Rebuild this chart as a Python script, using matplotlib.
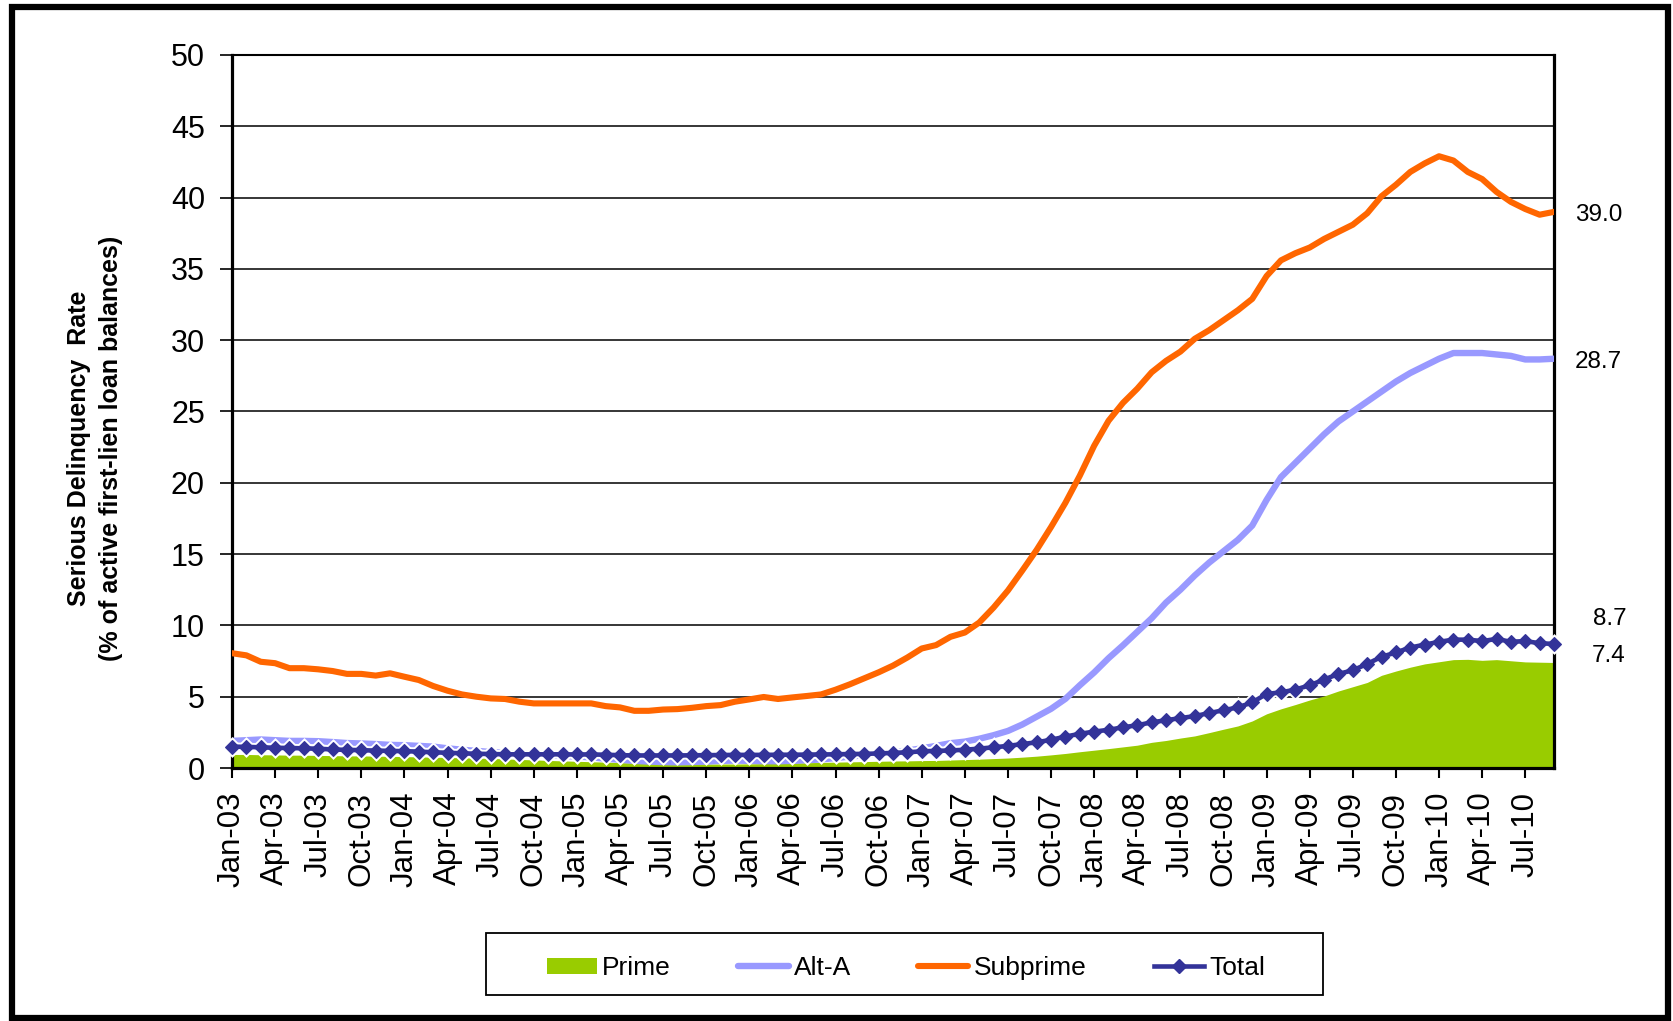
import numpy as np
import pandas as pd
import matplotlib
matplotlib.use("Agg")
import matplotlib.pyplot as plt
from matplotlib.patches import Rectangle, Patch
from matplotlib.lines import Line2D

plt.rcParams['font.family'] = ['Liberation Sans', 'DejaVu Sans']

# ---- data -----------------------------------------------------------------
months = pd.date_range('2003-01-01', '2010-09-01', freq='MS')  # Jan-03 .. Sep-10

subprime = [8.05, 7.9, 7.45, 7.35, 7.0, 7.0, 6.92, 6.8, 6.6, 6.6, 6.48, 6.64,
            6.4, 6.17, 5.75, 5.42, 5.16, 5.0, 4.88, 4.84, 4.65, 4.53, 4.53, 4.53,
            4.53, 4.53, 4.34, 4.25, 4.01, 4.01, 4.1, 4.13, 4.22, 4.34, 4.41, 4.65,
            4.81, 4.98, 4.84, 4.95, 5.05, 5.16, 5.49, 5.87, 6.29, 6.71, 7.18, 7.75,
            8.38, 8.62, 9.2, 9.5, 10.2, 11.25, 12.45, 13.85, 15.3, 16.9, 18.6, 20.5,
            22.6, 24.35, 25.6, 26.6, 27.75, 28.55, 29.2, 30.1, 30.7, 31.4, 32.1, 32.9,
            34.5, 35.6, 36.1, 36.5, 37.1, 37.6, 38.1, 38.9, 40.1, 40.9, 41.8, 42.4,
            42.9, 42.6, 41.8, 41.3, 40.4, 39.7, 39.2, 38.8, 39.0]

alt_a = [1.9, 1.95, 2.0, 1.95, 1.9, 1.9, 1.88, 1.82, 1.75, 1.72, 1.68, 1.62,
         1.6, 1.55, 1.5, 1.38, 1.28, 1.2, 1.12, 1.05, 1.0, 0.95, 0.9, 0.85,
         0.8, 0.75, 0.65, 0.58, 0.5, 0.45, 0.42, 0.4, 0.42, 0.45, 0.5, 0.52,
         0.5, 0.48, 0.47, 0.5, 0.55, 0.6, 0.7, 0.8, 0.9, 1.0, 1.12, 1.22,
         1.38, 1.55, 1.74, 1.85, 2.05, 2.3, 2.6, 3.05, 3.6, 4.15, 4.85, 5.8,
         6.7, 7.7, 8.6, 9.55, 10.5, 11.6, 12.5, 13.5, 14.4, 15.2, 16.0, 17.0,
         18.8, 20.4, 21.4, 22.4, 23.4, 24.3, 25.0, 25.7, 26.4, 27.1, 27.7, 28.2,
         28.7, 29.1, 29.1, 29.1, 29.0, 28.9, 28.65, 28.65, 28.7]

total = [1.5, 1.48, 1.45, 1.42, 1.4, 1.38, 1.35, 1.3, 1.27, 1.25, 1.22, 1.2,
         1.18, 1.15, 1.1, 1.07, 1.03, 1.0, 0.98, 0.96, 0.96, 0.96, 0.96, 0.96,
         0.95, 0.95, 0.93, 0.9, 0.88, 0.88, 0.88, 0.88, 0.89, 0.9, 0.91, 0.92,
         0.92, 0.92, 0.93, 0.93, 0.94, 0.95, 0.96, 0.98, 0.99, 1.02, 1.06, 1.1,
         1.17, 1.2, 1.23, 1.28, 1.36, 1.45, 1.55, 1.68, 1.8, 1.98, 2.2, 2.4,
         2.55, 2.68, 2.85, 3.0, 3.2, 3.35, 3.5, 3.64, 3.85, 4.05, 4.25, 4.6,
         5.2, 5.3, 5.5, 5.8, 6.2, 6.6, 6.85, 7.3, 7.8, 8.1, 8.45, 8.65,
         8.85, 9.0, 9.0, 8.9, 9.05, 8.85, 8.9, 8.75, 8.7]

prime = [0.95, 0.95, 0.93, 0.92, 0.9, 0.9, 0.88, 0.87, 0.85, 0.85, 0.83, 0.82,
         0.8, 0.78, 0.76, 0.74, 0.72, 0.7, 0.67, 0.64, 0.6, 0.57, 0.53, 0.5,
         0.47, 0.44, 0.41, 0.38, 0.35, 0.33, 0.31, 0.3, 0.29, 0.28, 0.28, 0.28,
         0.29, 0.31, 0.33, 0.35, 0.37, 0.39, 0.41, 0.43, 0.45, 0.47, 0.49, 0.5,
         0.52, 0.53, 0.56, 0.59, 0.62, 0.66, 0.7, 0.76, 0.83, 0.92, 1.02, 1.14,
         1.25, 1.36, 1.48, 1.6, 1.8, 1.93, 2.1, 2.25, 2.48, 2.72, 2.95, 3.3,
         3.8, 4.15, 4.45, 4.77, 5.05, 5.4, 5.7, 6.0, 6.5, 6.8, 7.07, 7.3,
         7.45, 7.6, 7.62, 7.55, 7.6, 7.52, 7.44, 7.42, 7.4]

tick_labels = ['Jan-03', 'Apr-03', 'Jul-03', 'Oct-03', 'Jan-04', 'Apr-04', 'Jul-04', 'Oct-04',
               'Jan-05', 'Apr-05', 'Jul-05', 'Oct-05', 'Jan-06', 'Apr-06', 'Jul-06', 'Oct-06',
               'Jan-07', 'Apr-07', 'Jul-07', 'Oct-07', 'Jan-08', 'Apr-08', 'Jul-08', 'Oct-08',
               'Jan-09', 'Apr-09', 'Jul-09', 'Oct-09', 'Jan-10', 'Apr-10', 'Jul-10']

end_labels = {'Subprime': '39.0', 'Alt-A': '28.7', 'Total': '8.7', 'Prime': '7.4'}

series_names = ['Prime', 'Alt-A', 'Subprime', 'Total']
colors = {'Prime': '#99CC00', 'Alt-A': '#9999FF', 'Subprime': '#FF6600', 'Total': '#333399'}

# ---- figure ---------------------------------------------------------------
W, H = 1673, 1021
fig = plt.figure(figsize=(W / 100, H / 100), dpi=100)
fig.patch.set_facecolor('white')

ax = fig.add_axes([232 / W, 1 - 768 / H, (1554 - 232) / W, (768 - 55) / H])
x = np.arange(len(months))

ax.fill_between(x, 0, prime, color=colors['Prime'], lw=0, zorder=2)
ax.plot(x, alt_a, color=colors['Alt-A'], lw=4.6, zorder=3, solid_joinstyle='round')
ax.plot(x, subprime, color=colors['Subprime'], lw=4.4, zorder=4, solid_joinstyle='round')
# white halo under the Total series
ax.plot(x, total, color='white', lw=6.0, marker='D', ms=8, mew=2.5, mec='white',
        zorder=4.8, clip_on=False)
ax.plot(x, total, color=colors['Total'], lw=3.3, marker='D', ms=7.5, mew=0.8,
        mec=colors['Total'], zorder=5, clip_on=False)

ax.set_xlim(0, len(months) - 1)
ax.set_ylim(0, 50)
ax.set_yticks(np.arange(0, 51, 5))
ax.set_xticks(np.arange(0, len(months), 3))
ax.set_xticklabels(tick_labels, rotation=90)
ax.tick_params(axis='y', direction='out', length=8.5, width=1.2, pad=11, labelsize=22)
ax.tick_params(axis='x', direction='out', length=7, width=1.5, pad=10, labelsize=22.5)
ax.yaxis.grid(True, color='black', lw=1.1)
ax.set_axisbelow(True)
for side in ['left', 'bottom', 'right']:
    ax.spines[side].set_linewidth(2.3)
ax.spines['top'].set_linewidth(1.5)

# end-of-series labels
last = len(months) - 1
offsets = {'Subprime': (15, -2), 'Alt-A': (15, -2), 'Total': (28, 18), 'Prime': (27, 4.5)}
last_vals = {'Subprime': subprime[-1], 'Alt-A': alt_a[-1], 'Total': total[-1], 'Prime': prime[-1]}
for name, txt in end_labels.items():
    ax.annotate(txt, xy=(last, last_vals[name]), xytext=offsets[name],
                textcoords='offset points', ha='left', va='center', fontsize=17.5,
                annotation_clip=False)

# y-axis title
fig.text(95 / W, 1 - 448 / H,
         'Serious Delinquency  Rate\n(% of active first-lien loan balances)',
         rotation=90, ha='center', va='center', fontsize=18, fontweight='bold',
         linespacing=1.45, multialignment='center')

# legend
handles = [Patch(facecolor=colors['Prime'], edgecolor='none'),
           Line2D([], [], color=colors['Alt-A'], lw=4.6, solid_capstyle='round'),
           Line2D([], [], color=colors['Subprime'], lw=4.4, solid_capstyle='round'),
           Line2D([], [], color=colors['Total'], lw=3.3, marker='D', ms=7.5)]
fig.legend(handles, series_names, loc='center', bbox_to_anchor=(906 / W, 1 - 968 / H),
           ncol=4, frameon=False, fontsize=19, handlelength=1.9, handletextpad=0.2,
           columnspacing=2.55, handleheight=0.55)
fig.patches.append(Rectangle((486 / W, 1 - 995 / H), (1323 - 486) / W, 62 / H,
                             transform=fig.transFigure, fill=False, ec='black', lw=1.3))

# outer frame
fig.patches.append(Rectangle((11.5 / W, 1 - 1018 / H), (1668 - 11.5) / W, (1018 - 7) / H,
                             transform=fig.transFigure, fill=False, ec='black', lw=4.5))

fig.savefig('out.png', dpi=100)
